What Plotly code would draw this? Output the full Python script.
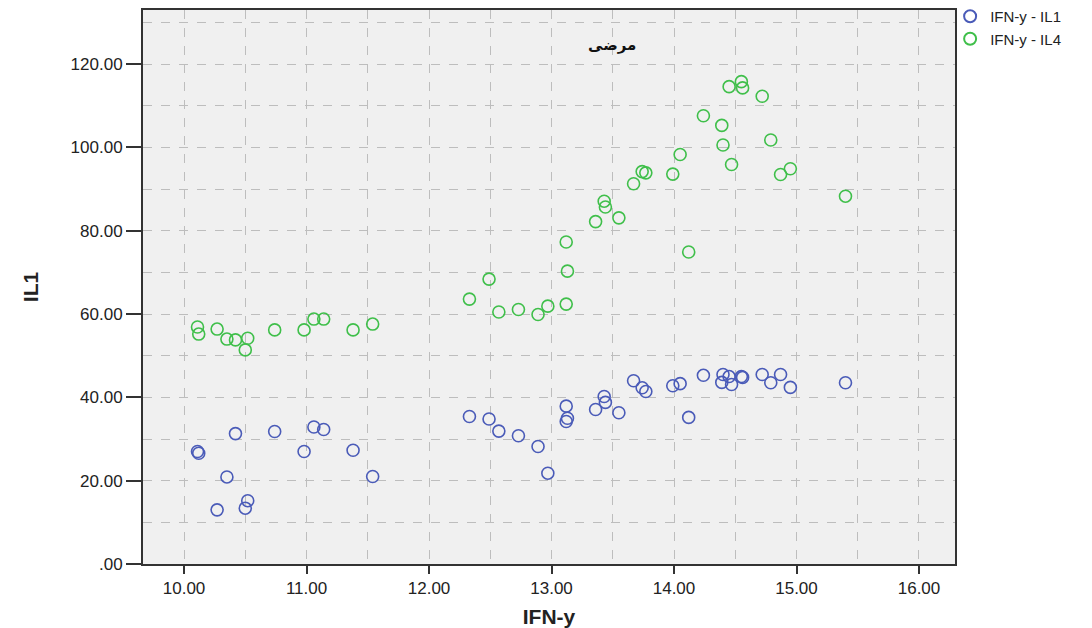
import plotly.graph_objects as go

ifn_y = [10.11, 10.12, 10.27, 10.35, 10.42, 10.50, 10.52, 10.74, 10.98, 11.06, 11.14, 11.38, 11.54,
         12.33, 12.49, 12.57, 12.73, 12.89, 12.97, 13.12, 13.13, 13.12, 13.36, 13.43, 13.44, 13.55,
         13.67, 13.74, 13.77, 13.99, 14.05, 14.12, 14.24, 14.39, 14.40, 14.45, 14.47, 14.55, 14.56,
         14.72, 14.79, 14.87, 14.95, 15.40]
il1 = [27.0, 26.6, 13.0, 20.9, 31.3, 13.4, 15.2, 31.8, 27.0, 32.9, 32.3, 27.3, 21.0,
       35.4, 34.8, 31.9, 30.8, 28.2, 21.8, 37.9, 35.0, 34.2, 37.1, 40.2, 38.8, 36.3,
       44.0, 42.3, 41.4, 42.8, 43.3, 35.2, 45.3, 43.6, 45.5, 45.0, 43.1, 45.0, 44.8,
       45.5, 43.5, 45.5, 42.4, 43.5]
il4 = [56.9, 55.2, 56.4, 54.0, 53.8, 51.4, 54.2, 56.2, 56.2, 58.8, 58.8, 56.2, 57.6,
       63.6, 68.4, 60.5, 61.1, 59.9, 61.9, 77.3, 70.3, 62.4, 82.2, 87.1, 85.7, 83.1,
       91.3, 94.2, 93.9, 93.6, 98.3, 74.9, 107.6, 105.3, 100.6, 114.6, 95.9, 115.8, 114.3,
       112.3, 101.8, 93.5, 94.9, 88.3]

x_ticks = [10, 11, 12, 13, 14, 15, 16]
x_ticktext = ["10.00", "11.00", "12.00", "13.00", "14.00", "15.00", "16.00"]
y_ticks = [0, 20, 40, 60, 80, 100, 120]
y_ticktext = [".00", "20.00", "40.00", "60.00", "80.00", "100.00", "120.00"]

series_names = ["IFN-y - IL1", "IFN-y - IL4"]
title_text = "مرضی"

fig = go.Figure()
fig.add_trace(go.Scatter(x=ifn_y, y=il1, mode="markers", name=series_names[0],
                         marker=dict(symbol="circle-open", size=12, color="#4a5bb8",
                                     line=dict(width=1.6))))
fig.add_trace(go.Scatter(x=ifn_y, y=il4, mode="markers", name=series_names[1],
                         marker=dict(symbol="circle-open", size=12, color="#3fbf4a",
                                     line=dict(width=1.6))))

font_family = "Liberation Sans, Arial, sans-serif"

fig.update_layout(
    width=1092, height=628,
    margin=dict(l=143, r=137, t=10, b=64, autoexpand=False),
    paper_bgcolor="white",
    plot_bgcolor="#f0f0f0",
    font=dict(family=font_family, size=14, color="#222"),
    showlegend=True,
    legend=dict(x=0.994, y=1.018, xanchor="left", yanchor="top",
                font=dict(size=15, color="#222"), bgcolor="rgba(0,0,0,0)",
                itemsizing="constant", tracegroupgap=0, itemwidth=30),
    xaxis=dict(range=[9.665, 16.294], tickvals=x_ticks, ticktext=x_ticktext,
               ticks="outside", ticklen=8, tickcolor="#333", tickwidth=2,
               showgrid=True, gridcolor="#bdbdbd", griddash="dash", gridwidth=1,
               minor=dict(dtick=0.5, tick0=10, showgrid=True, gridcolor="#bdbdbd",
                          griddash="dash", gridwidth=1),
               showline=True, linecolor="#333", linewidth=2, mirror=True,
               zeroline=False, automargin=False,
               title=dict(text="<b>IFN-y</b>", font=dict(size=21, color="#222"), standoff=14),
               tickfont=dict(size=17, color="#222")),
    yaxis=dict(range=[0, 133], tickvals=y_ticks, ticktext=y_ticktext,
               ticks="outside", ticklen=15, tickcolor="#333", tickwidth=2,
               showgrid=True, gridcolor="#bdbdbd", griddash="dash", gridwidth=1,
               minor=dict(dtick=10, tick0=0, showgrid=True, gridcolor="#bdbdbd",
                          griddash="dash", gridwidth=1),
               showline=True, linecolor="#333", linewidth=2, mirror=True,
               zeroline=False, automargin=False,
               title=dict(text="<b>IL1</b>", font=dict(size=21, color="#222"), standoff=26),
               tickfont=dict(size=17, color="#222")),
    annotations=[dict(text="<b>" + title_text + "</b>", x=0.578, y=0.937, xref="paper", yref="paper",
                      xanchor="center", yanchor="middle",
                      showarrow=False, font=dict(size=15, color="#111",
                                                 family="DejaVu Sans, Noto Sans, sans-serif"))],
)

fig.write_html("out.html", config={"displayModeBar": False},
               post_script="document.body.style.margin='0';")
